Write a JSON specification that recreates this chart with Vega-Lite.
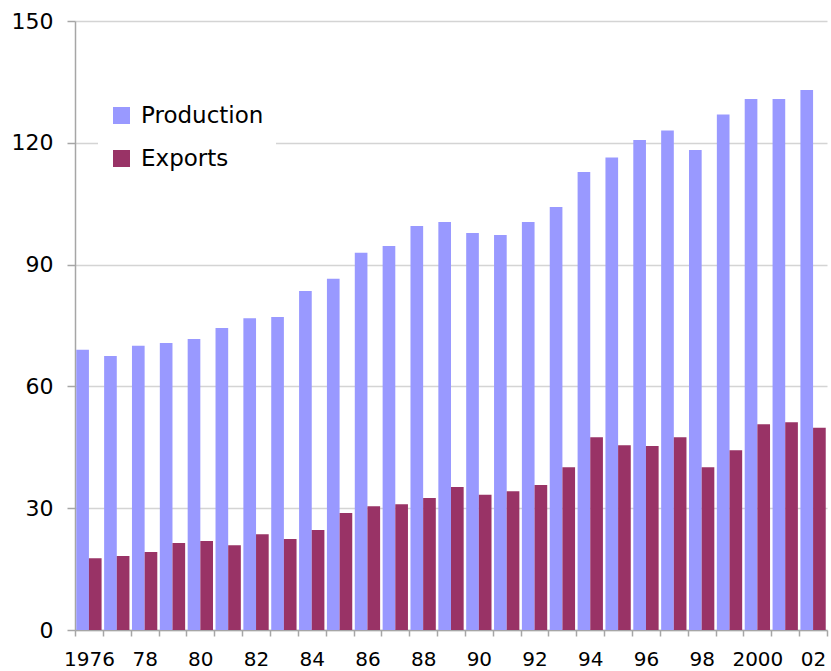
{
  "$schema": "https://vega.github.io/schema/vega-lite/v6.json",
  "width": 752,
  "height": 609,
  "autosize": {"type": "none"},
  "padding": {"left": 75, "top": 21, "right": 4, "bottom": 41},
  "background": "white",
  "config": {
    "view": {"stroke": null},
    "font": "DejaVu Sans"
  },
  "data": {
    "values": [
      {"year": 1976, "series": "Production", "value": 69.0},
      {"year": 1977, "series": "Production", "value": 67.5},
      {"year": 1978, "series": "Production", "value": 70.0},
      {"year": 1979, "series": "Production", "value": 70.7},
      {"year": 1980, "series": "Production", "value": 71.7},
      {"year": 1981, "series": "Production", "value": 74.4},
      {"year": 1982, "series": "Production", "value": 76.8},
      {"year": 1983, "series": "Production", "value": 77.1},
      {"year": 1984, "series": "Production", "value": 83.5},
      {"year": 1985, "series": "Production", "value": 86.5},
      {"year": 1986, "series": "Production", "value": 92.9},
      {"year": 1987, "series": "Production", "value": 94.6},
      {"year": 1988, "series": "Production", "value": 99.5},
      {"year": 1989, "series": "Production", "value": 100.5},
      {"year": 1990, "series": "Production", "value": 97.8},
      {"year": 1991, "series": "Production", "value": 97.3},
      {"year": 1992, "series": "Production", "value": 100.5},
      {"year": 1993, "series": "Production", "value": 104.2},
      {"year": 1994, "series": "Production", "value": 112.8},
      {"year": 1995, "series": "Production", "value": 116.4},
      {"year": 1996, "series": "Production", "value": 120.7},
      {"year": 1997, "series": "Production", "value": 123.0},
      {"year": 1998, "series": "Production", "value": 118.2},
      {"year": 1999, "series": "Production", "value": 127.0},
      {"year": 2000, "series": "Production", "value": 130.8},
      {"year": 2001, "series": "Production", "value": 130.8},
      {"year": 2002, "series": "Production", "value": 133.0},
      {"year": 1976, "series": "Exports", "value": 17.7},
      {"year": 1977, "series": "Exports", "value": 18.2},
      {"year": 1978, "series": "Exports", "value": 19.2},
      {"year": 1979, "series": "Exports", "value": 21.4},
      {"year": 1980, "series": "Exports", "value": 21.9},
      {"year": 1981, "series": "Exports", "value": 20.9},
      {"year": 1982, "series": "Exports", "value": 23.6},
      {"year": 1983, "series": "Exports", "value": 22.4},
      {"year": 1984, "series": "Exports", "value": 24.6},
      {"year": 1985, "series": "Exports", "value": 28.8},
      {"year": 1986, "series": "Exports", "value": 30.5},
      {"year": 1987, "series": "Exports", "value": 31.0},
      {"year": 1988, "series": "Exports", "value": 32.5},
      {"year": 1989, "series": "Exports", "value": 35.2},
      {"year": 1990, "series": "Exports", "value": 33.3},
      {"year": 1991, "series": "Exports", "value": 34.2},
      {"year": 1992, "series": "Exports", "value": 35.7},
      {"year": 1993, "series": "Exports", "value": 40.1},
      {"year": 1994, "series": "Exports", "value": 47.5},
      {"year": 1995, "series": "Exports", "value": 45.5},
      {"year": 1996, "series": "Exports", "value": 45.3},
      {"year": 1997, "series": "Exports", "value": 47.5},
      {"year": 1998, "series": "Exports", "value": 40.1},
      {"year": 1999, "series": "Exports", "value": 44.3},
      {"year": 2000, "series": "Exports", "value": 50.7},
      {"year": 2001, "series": "Exports", "value": 51.2},
      {"year": 2002, "series": "Exports", "value": 49.8}
    ]
  },
  "mark": {"type": "bar"},
  "encoding": {
    "x": {
      "field": "year",
      "type": "ordinal",
      "scale": {"paddingInner": 0, "paddingOuter": 0},
      "axis": {
        "title": null,
        "labelAngle": 0,
        "tickBand": "extent",
        "grid": false,
        "domainColor": "#a6a6a6",
        "domainWidth": 1.5,
        "tickColor": "#a6a6a6",
        "tickWidth": 1.5,
        "tickSize": 6,
        "labelFontSize": 20,
        "labelColor": "black",
        "labelPadding": 13,
        "labelOverlap": false,
        "labelExpr": "datum.value == 1976 || datum.value == 2000 ? datum.label : (datum.value % 2 == 0 ? slice(datum.label, 2) : '')"
      }
    },
    "xOffset": {
      "field": "series",
      "type": "nominal",
      "sort": ["Production", "Exports"],
      "scale": {"paddingInner": 0, "paddingOuter": 0.1}
    },
    "y": {
      "field": "value",
      "type": "quantitative",
      "scale": {"domain": [0, 150], "nice": false},
      "axis": {
        "title": null,
        "values": [0, 30, 60, 90, 120, 150],
        "tickSize": 8,
        "tickColor": "#a6a6a6",
        "tickWidth": 1.5,
        "domainColor": "#a6a6a6",
        "domainWidth": 1.5,
        "gridColor": "#d4d4d4",
        "gridWidth": 1.5,
        "labelFontSize": 22,
        "labelColor": "black",
        "labelPadding": 14
      }
    },
    "color": {
      "field": "series",
      "type": "nominal",
      "sort": ["Production", "Exports"],
      "scale": {"domain": ["Production", "Exports"], "range": ["#9999FF", "#993366"]},
      "legend": {
        "title": null,
        "orient": "none",
        "legendX": 23,
        "legendY": 71,
        "padding": 12,
        "fillColor": "white",
        "symbolType": "square",
        "symbolSize": 289,
        "symbolStrokeWidth": 0,
        "symbolOpacity": 1,
        "labelFontSize": 23,
        "labelColor": "black",
        "labelOffset": 8,
        "rowPadding": 19
      }
    }
  }
}
